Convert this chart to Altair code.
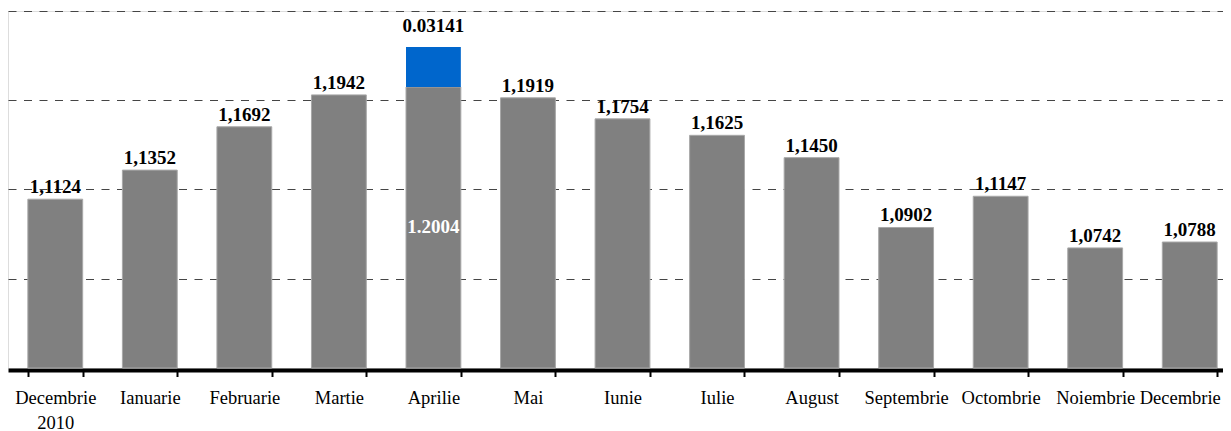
import altair as alt
import pandas as pd

months = ["Decembrie 2010", "Ianuarie", "Februarie", "Martie", "Aprilie", "Mai",
          "Iunie", "Iulie", "August", "Septembrie", "Octombrie", "Noiembrie", "Decembrie"]
rates = [1.1124, 1.1352, 1.1692, 1.1942, 1.2004, 1.1919, 1.1754, 1.1625,
         1.1450, 1.0902, 1.1147, 1.0742, 1.0788]
extra = [0, 0, 0, 0, 0.03141, 0, 0, 0, 0, 0, 0, 0, 0]
top_labels = ["1,1124", "1,1352", "1,1692", "1,1942", "0.03141", "1,1919", "1,1754",
              "1,1625", "1,1450", "1,0902", "1,1147", "1,0742", "1,0788"]
inner_labels = ["", "", "", "", "1.2004", "", "", "", "", "", "", "", ""]
grid_values = [1.05, 1.12, 1.19, 1.26]
BASE = 0.98
TOP = 1.26

df = pd.DataFrame({
    "month": months,
    "rate": rates,
    "extra": extra,
    "top_label": top_labels,
    "inner_label": inner_labels,
})
df["top"] = df["rate"] + df["extra"]
df["mid"] = (df["rate"] + BASE) / 2

FONT = "Liberation Serif"

x = alt.X(
    "month:N", sort=months,
    scale=alt.Scale(range=[0, 1229], paddingInner=0.42, paddingOuter=0.21),
    axis=alt.Axis(
        title=None, labelAngle=0, labelFont=FONT, labelFontSize=18.5, labelColor="black",
        labelLineHeight=25, labelPadding=11.5, labelOverlap=False, labelBound=False,
        labelFlush=False,
        labelOffset={"condition": {"test": "datum.value === 'Decembrie'", "value": -10},
                     "value": 0},
        labelExpr="datum.value == 'Decembrie 2010' ? ['Decembrie', '2010'] : datum.value",
        tickBand="extent", tickSize=6.5, tickWidth=2, tickColor="black",
        domainColor="black", domainWidth=4, offset=2, grid=False,
    ),
)
y_scale = alt.Scale(domain=[BASE, TOP], zero=False, nice=False)
y = alt.Y(
    "rate:Q", scale=y_scale,
    axis=alt.Axis(values=grid_values, labels=False, ticks=False, domain=False, title=None,
                  grid=True, gridDash=[8, 7.5], gridColor="#454545", gridWidth=1.2),
)

base = alt.Chart(df)

gray = base.mark_bar(color="#808080", stroke="#a8a8a8", strokeWidth=1).encode(
    x=x, y=y, y2=alt.datum(BASE)
)
blue = base.transform_filter("datum.extra > 0").mark_bar(color="#0066CC").encode(
    x=x, y=alt.Y("rate:Q", scale=y_scale), y2="top:Q"
)
labels_norm = base.transform_filter("datum.extra == 0").mark_text(
    font=FONT, fontSize=19, fontWeight="bold", color="black", baseline="alphabetic", dy=-6
).encode(x=x, y=alt.Y("top:Q", scale=y_scale), text="top_label:N")
labels_extra = base.transform_filter("datum.extra > 0").mark_text(
    font=FONT, fontSize=19, fontWeight="bold", color="black", baseline="alphabetic", dy=-15
).encode(x=x, y=alt.Y("top:Q", scale=y_scale), text="top_label:N")
inner = base.transform_filter("datum.inner_label != ''").mark_text(
    font=FONT, fontSize=19, fontWeight="bold", color="white", baseline="middle"
).encode(x=x, y=alt.Y("mid:Q", scale=y_scale), text="inner_label:N")

chart = alt.layer(gray, blue, labels_norm, labels_extra, inner).properties(
    width=1215, height=357,
    autosize=alt.AutoSizeParams(type="none"),
    padding={"left": 0, "top": 3, "right": 0, "bottom": 63},
).configure_view(stroke=None).configure(background="white")

chart.save("out.html", embed_options={"renderer": "svg", "actions": False})
